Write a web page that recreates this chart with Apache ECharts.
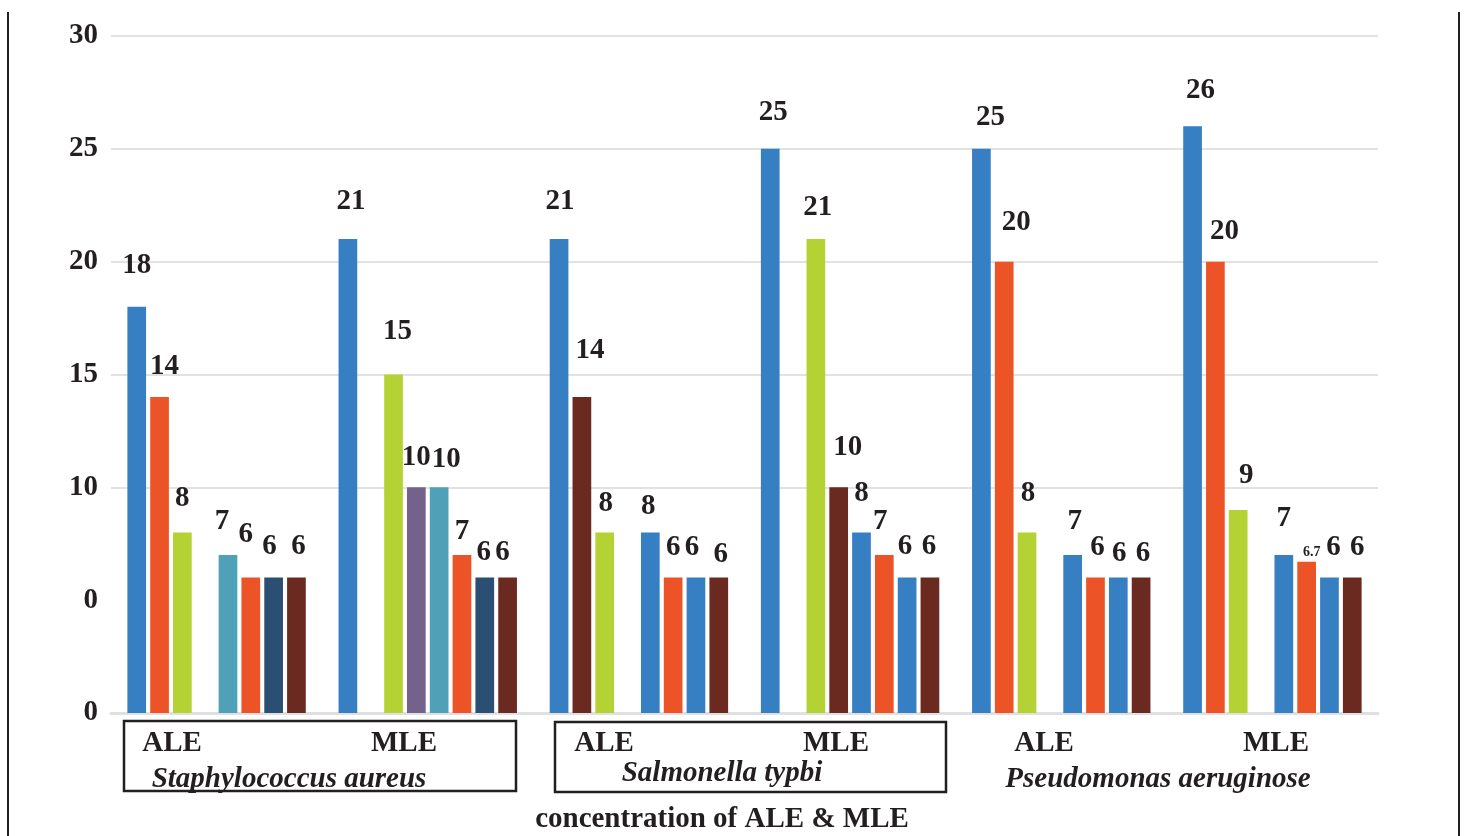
<!DOCTYPE html>
<html>
<head>
<meta charset="utf-8">
<script src="https://cdn.jsdelivr.net/npm/echarts@6/dist/echarts.min.js"></script>
<style>
html, body { margin: 0; padding: 0; background: #ffffff; }
#chart { width: 1464px; height: 836px; }
</style>
</head>
<body>
<div id="chart"></div>
<script>
// Zone of inhibition per extract and organism; eight bar slots per group, null = empty slot
const categories = ['ALE', 'MLE', 'ALE', 'MLE', 'ALE', 'MLE'];
const organisms = ['Staphylococcus aureus', 'Salmonella typbi', 'Pseudomonas aeruginose'];
const staphALE = [18, 14, 8, null, 7, 6, 6, 6];
const staphMLE = [21, null, 15, 10, 10, 7, 6, 6];
const salmALE = [21, 14, 8, null, 8, 6, 6, 6];
const salmMLE = [25, null, 21, 10, 8, 7, 6, 6];
const pseudoALE = [25, 20, 8, null, 7, 6, 6, 6];
const pseudoMLE = [26, 20, 9, null, 7, 6.7, 6, 6];
const yTickLabels = ['0', '0', '10', '15', '20', '25', '30'];
const axisTitle = 'concentration of ALE & MLE';

const groups = [staphALE, staphMLE, salmALE, salmMLE, pseudoALE, pseudoMLE];

// Bar colours, slot by slot
const palette = {
  blue: '#367fc3', orange: '#ec5427', lime: '#b4d234', teal: '#50a1b8',
  navy: '#2a4f73', brown: '#6a2a20', purple: '#75628c'
};
const groupColors = [
  ['blue', 'orange', 'lime', null, 'teal', 'orange', 'navy', 'brown'],
  ['blue', null, 'lime', 'purple', 'teal', 'orange', 'navy', 'brown'],
  ['blue', 'brown', 'lime', null, 'blue', 'orange', 'blue', 'brown'],
  ['blue', null, 'lime', 'brown', 'blue', 'orange', 'blue', 'brown'],
  ['blue', 'orange', 'lime', null, 'blue', 'orange', 'blue', 'brown'],
  ['blue', 'orange', 'lime', null, 'blue', 'orange', 'blue', 'brown']
];
// Small shifts of the value labels [dx, dy]
const labelNudge = [
  [[0, -7], [5, 3], [0, 0], null, [-6, 0], [-5, -9], [-4, 3], [2, 3]],
  [[3, -4], null, [4, -9], [0, 4], [7, 6], [0, 10], [-1, 9], [-5, 9]],
  [[1, -4], [8, -13], [1, 5], null, [-2, 8], [0, 4], [-4, 4], [2, 11]],
  [[3, -2], null, [2, 2], [9, -6], [0, -5], [-4, 0], [-2, 3], [-1, 3]],
  [[9, 3], [12, -5], [1, -5], null, [2, 0], [2, 4], [1, 10], [2, 10]],
  [[8, -2], [9, 4], [8, 0], null, [0, -3], [5, 18], [4, 4], [5, 4]]
];

const INK = '#231f20';
const SERIF = '"Liberation Serif", "Times New Roman", serif';

const series = [];
for (let s = 0; s < 8; s++) {
  series.push({
    type: 'bar',
    barWidth: 18.7,
    barGap: '22%',
    animation: false,
    emphasis: { disabled: true },
    label: {
      show: true,
      position: 'top',
      distance: 20,
      formatter: p => (Number.isInteger(p.value) ? '{b|' + p.value + '}' : '{s|' + p.value + '}'),
      rich: {
        b: { fontFamily: SERIF, fontWeight: 'bold', fontSize: 29, lineHeight: 28, color: INK },
        s: { fontFamily: SERIF, fontWeight: 'bold', fontSize: 14, lineHeight: 14, color: INK }
      }
    },
    data: groups.map((g, gi) => (g[s] == null ? null : {
      value: g[s],
      itemStyle: { color: palette[groupColors[gi][s]] },
      label: { offset: labelNudge[gi][s] }
    }))
  });
}

// Category and organism captions under the axis
const captionX = [172, 404, 604, 836, 1044, 1276];
const organismX = [289, 722, 1158];
const organismY = [780, 774, 780];

const graphic = [
  { type: 'line', shape: { x1: 8, y1: 12, x2: 8, y2: 836 }, style: { stroke: INK, lineWidth: 2 } },
  { type: 'line', shape: { x1: 1459, y1: 12, x2: 1459, y2: 836 }, style: { stroke: INK, lineWidth: 2 } },
  { type: 'rect', shape: { x: 124, y: 721, width: 392, height: 70 }, style: { fill: null, stroke: INK, lineWidth: 2.5 } },
  { type: 'rect', shape: { x: 555, y: 722, width: 391, height: 70 }, style: { fill: null, stroke: INK, lineWidth: 2.5 } }
];
categories.forEach((c, i) => {
  graphic.push({
    type: 'text', x: captionX[i], y: 744,
    style: { text: c, align: 'center', verticalAlign: 'middle', fill: INK,
      font: 'bold 29px ' + SERIF }
  });
});
organisms.forEach((o, i) => {
  graphic.push({
    type: 'text', x: organismX[i], y: organismY[i],
    style: { text: o, align: 'center', verticalAlign: 'middle', fill: INK,
      font: 'italic bold 29px ' + SERIF }
  });
});
graphic.push({
  type: 'text', x: 722, y: 820,
  style: { text: axisTitle, align: 'center', verticalAlign: 'middle', fill: INK,
    font: 'bold 29px ' + SERIF }
});

const chart = echarts.init(document.getElementById('chart'), null, { renderer: 'canvas' });
chart.setOption({
  backgroundColor: '#ffffff',
  animation: false,
  grid: { left: 111, right: 86, top: 36, bottom: 123, containLabel: false, outerBoundsMode: 'none' },
  xAxis: {
    type: 'category',
    data: categories,
    axisLine: { show: true, lineStyle: { color: '#e0e0e0', width: 3 } },
    axisTick: { show: false },
    axisLabel: { show: false },
    splitLine: { show: false }
  },
  yAxis: {
    type: 'value',
    min: 0, max: 30, interval: 5,
    axisLine: { show: false },
    axisTick: { show: false },
    axisLabel: {
      margin: 13,
      padding: [5, 0, 0, 0],
      formatter: v => yTickLabels[Math.round(v / 5)],
      fontFamily: SERIF, fontWeight: 'bold', fontSize: 29, color: INK
    },
    splitLine: {
      show: true,
      lineStyle: {
        color: ['#e2e2e2', 'rgba(0,0,0,0)', '#e2e2e2', '#e2e2e2', '#e2e2e2', '#e2e2e2', '#e2e2e2'],
        width: 2
      }
    }
  },
  series: series,
  graphic: graphic
});
</script>
</body>
</html>
